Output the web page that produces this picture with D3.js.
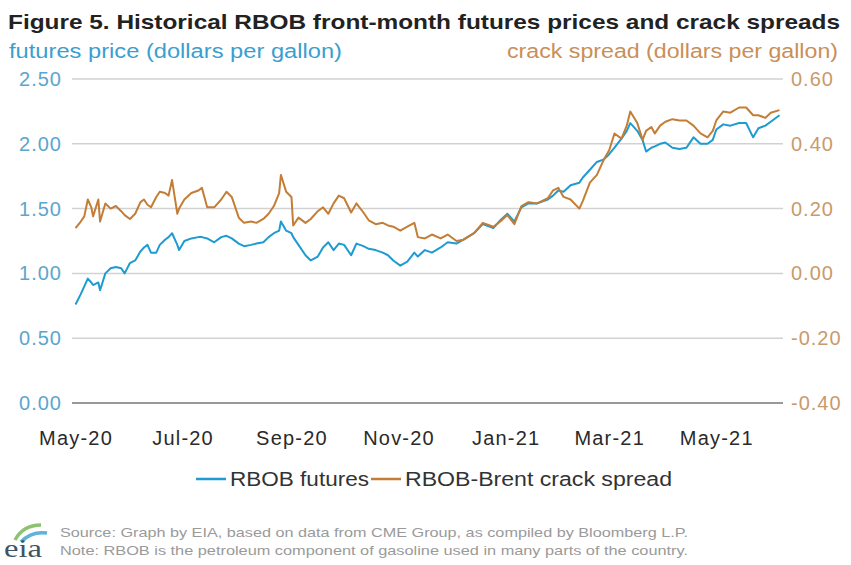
<!DOCTYPE html>
<html>
<head>
<meta charset="utf-8">
<script src="https://cdn.jsdelivr.net/npm/d3@7"></script>
<style>
  html, body { margin: 0; padding: 0; background: #fff; }
  svg { display: block; font-family: "Liberation Sans", Arial, sans-serif; }
</style>
</head>
<body>
<svg id="chart" width="851" height="565"></svg>
<script>
// Trading dates (approximate sampling) for both series
const dates = [
  "2020-05-01","2020-05-04","2020-05-06","2020-05-08","2020-05-10","2020-05-11","2020-05-14","2020-05-15",
  "2020-05-18","2020-05-21","2020-05-24","2020-05-27","2020-05-29","2020-06-01","2020-06-04","2020-06-07",
  "2020-06-09","2020-06-11","2020-06-13","2020-06-16","2020-06-18","2020-06-21","2020-06-23","2020-06-25",
  "2020-06-28","2020-06-29","2020-07-02","2020-07-06","2020-07-10","2020-07-12","2020-07-15","2020-07-19",
  "2020-07-23","2020-07-26","2020-07-29","2020-08-02","2020-08-05","2020-08-09","2020-08-12","2020-08-16",
  "2020-08-19","2020-08-22","2020-08-25","2020-08-26","2020-08-29","2020-09-01","2020-09-02","2020-09-05",
  "2020-09-09","2020-09-12","2020-09-16","2020-09-19","2020-09-22","2020-09-25","2020-09-28","2020-10-01",
  "2020-10-05","2020-10-08","2020-10-12","2020-10-15","2020-10-19","2020-10-23","2020-10-26","2020-10-29",
  "2020-11-02","2020-11-06","2020-11-10","2020-11-12","2020-11-16","2020-11-20","2020-11-25","2020-11-29",
  "2020-12-04","2020-12-08","2020-12-14","2020-12-19","2020-12-25","2020-12-29","2021-01-02","2021-01-06",
  "2021-01-10","2021-01-14","2021-01-19","2021-01-25","2021-01-28","2021-01-31","2021-02-03","2021-02-07",
  "2021-02-12","2021-02-14","2021-02-18","2021-02-22","2021-02-26","2021-03-01","2021-03-04","2021-03-08",
  "2021-03-11","2021-03-13","2021-03-17","2021-03-20","2021-03-22","2021-03-25","2021-03-27","2021-03-30",
  "2021-04-02","2021-04-06","2021-04-10","2021-04-14","2021-04-18","2021-04-22","2021-04-26","2021-04-29",
  "2021-05-01","2021-05-05","2021-05-09","2021-05-14","2021-05-18","2021-05-22","2021-05-25","2021-05-29",
  "2021-06-01","2021-06-06"
];

// RBOB front-month futures price, dollars per gallon
const futures = [
  0.76,0.84,0.90,0.96,0.93,0.91,0.93,0.87,
  1.00,1.04,1.05,1.04,1.00,1.08,1.10,1.17,
  1.20,1.22,1.16,1.16,1.22,1.26,1.28,1.31,
  1.22,1.18,1.25,1.27,1.28,1.28,1.27,1.24,
  1.28,1.29,1.27,1.23,1.21,1.22,1.23,1.24,
  1.28,1.31,1.33,1.40,1.33,1.31,1.28,1.22,
  1.14,1.10,1.13,1.20,1.24,1.18,1.23,1.22,
  1.14,1.23,1.21,1.19,1.18,1.16,1.14,1.10,
  1.06,1.09,1.16,1.13,1.18,1.16,1.20,1.24,
  1.23,1.26,1.31,1.38,1.35,1.41,1.46,1.40,
  1.51,1.54,1.54,1.57,1.60,1.64,1.63,1.68,
  1.70,1.74,1.80,1.86,1.88,1.92,1.97,2.04,
  2.10,2.16,2.10,2.03,1.94,1.97,1.98,2.00,
  2.01,1.97,1.96,1.97,2.05,2.00,2.00,2.03,
  2.11,2.15,2.14,2.16,2.16,2.05,2.12,2.14,
  2.17,2.22
];

// RBOB-Brent crack spread, dollars per gallon
const crack = [
  0.140,0.160,0.176,0.228,0.204,0.176,0.228,0.160,
  0.216,0.200,0.208,0.192,0.180,0.168,0.184,0.220,
  0.228,0.212,0.204,0.236,0.252,0.248,0.240,0.288,
  0.184,0.200,0.228,0.248,0.256,0.264,0.204,0.204,
  0.228,0.252,0.236,0.172,0.156,0.160,0.156,0.168,
  0.184,0.208,0.248,0.304,0.252,0.236,0.148,0.172,
  0.156,0.168,0.192,0.204,0.184,0.216,0.240,0.232,
  0.188,0.216,0.188,0.164,0.152,0.156,0.148,0.144,
  0.132,0.144,0.156,0.112,0.108,0.120,0.108,0.120,
  0.100,0.104,0.124,0.156,0.144,0.160,0.180,0.152,
  0.208,0.220,0.216,0.232,0.256,0.264,0.236,0.228,
  0.200,0.224,0.280,0.304,0.352,0.380,0.432,0.416,
  0.456,0.500,0.464,0.412,0.440,0.452,0.432,0.456,
  0.468,0.476,0.472,0.472,0.456,0.432,0.420,0.440,
  0.472,0.500,0.496,0.512,0.512,0.488,0.488,0.480,
  0.496,0.504
];

const leftTicks = [0, 0.5, 1.0, 1.5, 2.0, 2.5];
const rightTicks = [-0.4, -0.2, 0.0, 0.2, 0.4, 0.6];
const monthTicks = ["2020-05-01","2020-07-01","2020-09-01","2020-11-01","2021-01-01","2021-03-01","2021-05-01"];
const seriesNames = ["RBOB futures", "RBOB-Brent crack spread"];

const BLUE = "#1e9bd0";
const ORANGE = "#c47d36";

const parse = d3.timeParse("%Y-%m-%d");
const rows = dates.map((d, i) => ({ date: parse(d), fut: futures[i], crk: crack[i] }));

const svg = d3.select("#chart");
const m = { left: 72, right: 783, top: 79, bottom: 403 };

const x = d3.scaleTime()
  .domain([parse("2020-04-29"), parse("2021-06-08")])
  .range([m.left, m.right]);
const yL = d3.scaleLinear().domain([0, 2.5]).range([m.bottom, m.top]);
const yR = d3.scaleLinear().domain([-0.4, 0.6]).range([m.bottom, m.top]);

// Plain hyphen for negative numbers
const fmt2 = v => d3.format(".2f")(v).replace("\u2212", "-");

// Title and axis captions
svg.append("text")
  .attr("x", 8).attr("y", 29)
  .attr("font-size", 21).attr("font-weight", "bold").attr("fill", "#222")
  .attr("textLength", 832).attr("lengthAdjust", "spacingAndGlyphs")
  .text("Figure 5. Historical RBOB front-month futures prices and crack spreads");

svg.append("text")
  .attr("x", 9).attr("y", 58)
  .attr("font-size", 20).attr("fill", "#3a9fd0")
  .attr("textLength", 333).attr("lengthAdjust", "spacingAndGlyphs")
  .text("futures price (dollars per gallon)");

svg.append("text")
  .attr("x", 507).attr("y", 58)
  .attr("font-size", 20).attr("fill", "#c98f58")
  .attr("textLength", 331).attr("lengthAdjust", "spacingAndGlyphs")
  .text("crack spread (dollars per gallon)");

// Horizontal gridlines
svg.append("g")
  .selectAll("line")
  .data(leftTicks)
  .join("line")
  .attr("x1", m.left).attr("x2", m.right)
  .attr("y1", d => yL(d)).attr("y2", d => yL(d))
  .attr("stroke", d => d === 0 ? "#999" : "#d2d2d2")
  .attr("stroke-width", d => d === 0 ? 2.2 : 1.5);

// Left axis labels
const axL = svg.append("g")
  .attr("transform", `translate(${m.left - 10},0)`)
  .call(d3.axisLeft(yL).tickValues(leftTicks).tickFormat(fmt2).tickSize(0).tickPadding(0));
axL.select(".domain").remove();
axL.selectAll("text")
  .attr("font-size", 20).attr("letter-spacing", 1).attr("fill", "#5ba6cc")
  .attr("font-family", "Liberation Sans, Arial, sans-serif");

// Right axis labels
const axR = svg.append("g")
  .attr("transform", `translate(${m.right + 8},0)`)
  .call(d3.axisRight(yR).tickValues(rightTicks).tickFormat(fmt2).tickSize(0).tickPadding(0));
axR.select(".domain").remove();
axR.selectAll("text")
  .attr("font-size", 20).attr("letter-spacing", 1).attr("fill", "#c99a6c")
  .attr("font-family", "Liberation Sans, Arial, sans-serif");

// Bottom axis labels
const axB = svg.append("g")
  .attr("transform", `translate(0,${m.bottom + 25})`)
  .call(d3.axisBottom(x).tickValues(monthTicks.map(parse)).tickFormat(d3.timeFormat("%b-%y")).tickSize(0).tickPadding(0));
axB.select(".domain").remove();
axB.selectAll("text")
  .attr("dy", "0.85em")
  .attr("font-size", 20).attr("letter-spacing", 1.2).attr("fill", "#2a2a2a")
  .attr("font-family", "Liberation Sans, Arial, sans-serif");

// Series lines
const lineF = d3.line().x(d => x(d.date)).y(d => yL(d.fut));
const lineC = d3.line().x(d => x(d.date)).y(d => yR(d.crk));

svg.append("path")
  .datum(rows)
  .attr("d", lineF)
  .attr("fill", "none").attr("stroke", BLUE).attr("stroke-width", 2)
  .attr("stroke-linejoin", "round");

svg.append("path")
  .datum(rows)
  .attr("d", lineC)
  .attr("fill", "none").attr("stroke", ORANGE).attr("stroke-width", 2)
  .attr("stroke-linejoin", "round");

// Legend
const legend = svg.append("g").attr("font-size", 20).attr("fill", "#333");
const legendItems = [
  { name: seriesNames[0], color: BLUE, x0: 196, w: 139 },
  { name: seriesNames[1], color: ORANGE, x0: 371, w: 267 }
];
legendItems.forEach(it => {
  legend.append("line")
    .attr("x1", it.x0).attr("x2", it.x0 + 30)
    .attr("y1", 479).attr("y2", 479)
    .attr("stroke", it.color).attr("stroke-width", 2.5);
  legend.append("text")
    .attr("x", it.x0 + 34).attr("y", 486)
    .attr("textLength", it.w).attr("lengthAdjust", "spacingAndGlyphs")
    .text(it.name);
});

// Source footer with agency mark
const logo = svg.append("g").attr("transform", "translate(3,520)");
logo.append("path")
  .attr("d", "M12,20 Q20,5 38,5")
  .attr("fill", "none").attr("stroke", "#8dc26f").attr("stroke-width", 3.5);
logo.append("path")
  .attr("d", "M18,22 Q28,11 44,13")
  .attr("fill", "none").attr("stroke", "#5db3d9").attr("stroke-width", 3.5);
logo.append("text")
  .attr("x", 1).attr("y", 37)
  .attr("font-family", "Liberation Serif, serif")
  .attr("font-size", 26).attr("fill", "#3d5466")
  .attr("textLength", 38).attr("lengthAdjust", "spacingAndGlyphs")
  .text("eia");

svg.append("text")
  .attr("x", 60).attr("y", 537)
  .attr("font-size", 13).attr("fill", "#9a9a9a")
  .attr("textLength", 628).attr("lengthAdjust", "spacingAndGlyphs")
  .text("Source: Graph by EIA, based on data from CME Group, as compiled by Bloomberg L.P.");
svg.append("text")
  .attr("x", 60).attr("y", 555)
  .attr("font-size", 13).attr("fill", "#9a9a9a")
  .attr("textLength", 628).attr("lengthAdjust", "spacingAndGlyphs")
  .text("Note: RBOB is the petroleum component of gasoline used in many parts of the country.");
</script>
</body>
</html>
